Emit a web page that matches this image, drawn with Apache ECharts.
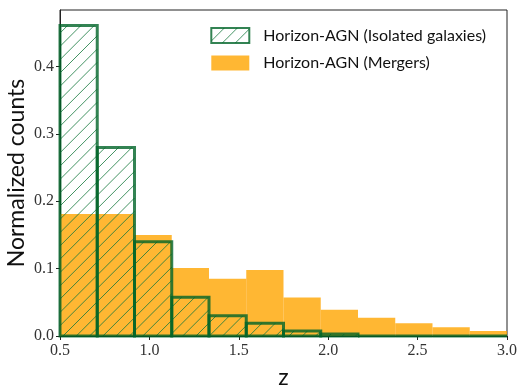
<!DOCTYPE html>
<html>
<head>
<meta charset="utf-8">
<script src="https://cdn.jsdelivr.net/npm/echarts@6/dist/echarts.min.js"></script>
<style>
  html, body { margin: 0; padding: 0; background: #fff; }
  #chart { width: 523px; height: 391px; }
</style>
</head>
<body>
<div id="chart"></div>
<script>
// bin edges (z), 12 bins from 0.5 to 3.0
var binEdges = [0.5, 0.7083, 0.9167, 1.125, 1.3333, 1.5417, 1.75, 1.9583, 2.1667, 2.375, 2.5833, 2.7917, 3.0];
// normalized counts
var mergers = [0.181, 0.181, 0.150, 0.101, 0.085, 0.098, 0.057, 0.039, 0.027, 0.019, 0.013, 0.0075];
var isolated = [0.461, 0.280, 0.140, 0.0575, 0.030, 0.019, 0.0075, 0.003, 0, 0, 0, 0];
var xTicks = [0.5, 1.0, 1.5, 2.0, 2.5, 3.0];
var yTicks = [0.0, 0.1, 0.2, 0.3, 0.4];

var seriesNames = ["Horizon-AGN (Isolated galaxies)", "Horizon-AGN (Mergers)"];

var orange = "rgba(255,165,0,0.8)";
var edgeGreen = "rgba(0,100,40,0.8)";
var hatchGreen = "rgba(20,120,60,0.8)";
var HATCH = 13.3; // px between "/" lines

// small pattern only used for the legend swatch
var hatch = document.createElement("canvas");
hatch.width = 13;
hatch.height = 13;
(function () {
  var c = hatch.getContext("2d");
  c.strokeStyle = hatchGreen;
  c.lineWidth = 1;
  c.beginPath();
  c.moveTo(0, 13); c.lineTo(13, 0);
  c.moveTo(-7, 7); c.lineTo(7, -7);
  c.moveTo(7, 20); c.lineTo(20, 7);
  c.stroke();
})();
var hatchFill = { type: "pattern", image: hatch, repeat: "repeat" };

function histData(vals) {
  return vals.map(function (v, i) {
    return [binEdges[i], binEdges[i + 1], v];
  });
}

function renderMerger(params, api) {
  var p0 = api.coord([api.value(0), api.value(2)]);
  var p1 = api.coord([api.value(1), 0]);
  return {
    type: "rect",
    shape: { x: p0[0], y: p0[1], width: p1[0] - p0[0], height: p1[1] - p0[1] },
    style: { fill: orange }
  };
}

function renderIsolated(params, api) {
  var p0 = api.coord([api.value(0), api.value(2)]);
  var p1 = api.coord([api.value(1), 0]);
  var x0 = p0[0], x1 = p1[0], y0 = p0[1], y1 = p1[1];
  var children = [];
  // diagonal hatch lines x + y = c, clipped to the bar
  var cStart = Math.ceil((x0 + y0) / HATCH) * HATCH;
  for (var c = cStart; c <= x1 + y1; c += HATCH) {
    var xa = Math.max(x0, c - y1);
    var xb = Math.min(x1, c - y0);
    if (xb > xa) {
      children.push({
        type: "line",
        shape: { x1: xa, y1: c - xa, x2: xb, y2: c - xb },
        style: { stroke: hatchGreen, lineWidth: 1 }
      });
    }
  }
  children.push({
    type: "rect",
    shape: { x: x0, y: y0, width: x1 - x0, height: y1 - y0 },
    style: { fill: null, stroke: edgeGreen, lineWidth: 3 }
  });
  return { type: "group", children: children };
}

var chart = echarts.init(document.getElementById("chart"), null, { renderer: "canvas" });
chart.setOption({
  animation: false,
  grid: {
    left: 60, right: 16, top: 10, bottom: 55,
    outerBoundsMode: "none",
    containLabel: false,
    show: true, borderColor: "#222", borderWidth: 1, backgroundColor: "transparent"
  },
  legend: {
    right: 32, top: 22,
    orient: "vertical",
    icon: "rect",
    itemWidth: 38,
    itemHeight: 15,
    itemGap: 11,
    data: seriesNames,
    textStyle: { fontFamily: "Lato", fontSize: 16, color: "#111", padding: [0, 0, 0, 9] }
  },
  xAxis: {
    type: "value",
    min: 0.5, max: 3.0, interval: 0.5,
    name: "z",
    nameLocation: "middle",
    nameGap: 30,
    nameMoveOverlap: false,
    nameTextStyle: { fontFamily: "Lato", fontSize: 23, color: "#111" },
    axisLine: { show: true, onZero: false, lineStyle: { color: "#222" } },
    axisTick: { show: true, length: 4, lineStyle: { color: "#222" }, customValues: xTicks },
    axisLabel: {
      fontFamily: "Liberation Serif", fontSize: 16, color: "#333", margin: 7,
      customValues: xTicks,
      formatter: function (v) { return v.toFixed(1); }
    },
    splitLine: { show: false }
  },
  yAxis: {
    type: "value",
    min: 0, max: 0.484,
    name: "Normalized counts",
    nameLocation: "middle",
    nameGap: 32,
    nameMoveOverlap: false,
    nameTextStyle: { fontFamily: "Lato", fontSize: 23, color: "#111" },
    axisLine: { show: true, lineStyle: { color: "#222" } },
    axisTick: { show: true, length: 4, lineStyle: { color: "#222" }, customValues: yTicks },
    axisLabel: {
      fontFamily: "Liberation Serif", fontSize: 16, color: "#333", margin: 6,
      customValues: yTicks,
      formatter: function (v) { return v.toFixed(1); }
    },
    splitLine: { show: false }
  },
  series: [
    {
      name: seriesNames[1],
      type: "custom",
      renderItem: renderMerger,
      itemStyle: { color: orange },
      encode: { x: [0, 1], y: 2 },
      data: histData(mergers),
      z: 2
    },
    {
      name: seriesNames[0],
      type: "custom",
      renderItem: renderIsolated,
      itemStyle: { color: hatchFill, borderColor: edgeGreen, borderWidth: 3 },
      encode: { x: [0, 1], y: 2 },
      data: histData(isolated),
      z: 3
    }
  ]
});
</script>
</body>
</html>
